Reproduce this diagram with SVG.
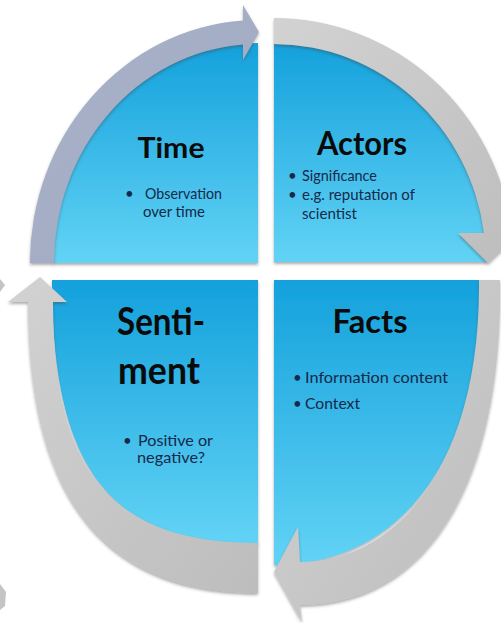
<svg xmlns="http://www.w3.org/2000/svg" width="501" height="623" viewBox="0 0 501 623">
<style>
.title{font-family:"Lato","Liberation Sans",sans-serif;font-weight:bold;fill:#0b0b0b}
.body{font-family:"Lato","Liberation Sans",sans-serif;font-size:15px;fill:#16294a}
.blue{fill:url(#blueGrad);filter:url(#shadow)}
.band{fill:url(#grayGrad);filter:url(#shadow)}
</style>
<defs>
<linearGradient id="blueGrad" x1="0" y1="0" x2="0" y2="1">
<stop offset="0" stop-color="#14a1dc"/>
<stop offset="1" stop-color="#62d3f5"/>
</linearGradient>
<linearGradient id="grayGrad" x1="0" y1="0" x2="1" y2="1">
<stop offset="0" stop-color="#d2d2d2"/>
<stop offset="1" stop-color="#bdbdbd"/>
</linearGradient>
<linearGradient id="slateGrad" x1="0" y1="0" x2="1" y2="1">
<stop offset="0" stop-color="#aab3ca"/>
<stop offset="1" stop-color="#9ea8c0"/>
</linearGradient>
<filter id="shadow" x="-10%" y="-10%" width="120%" height="125%">
<feDropShadow dx="0" dy="2" stdDeviation="1.5" flood-color="#444" flood-opacity="0.45"/>
</filter>
</defs>
<rect width="501" height="623" fill="#ffffff"/>

<g id="node-time">
<path class="blue" d="M258,263 L53,263 A205 220 0 0 1 258 43 Z"/>
<text class="title" x="171" y="158" font-size="29" text-anchor="middle" textLength="67" lengthAdjust="spacingAndGlyphs">Time</text>
<text class="body" x="125" y="199">•</text>
<text class="body" x="145" y="199" textLength="77" lengthAdjust="spacingAndGlyphs">Observation</text>
<text class="body" x="143" y="217" textLength="62" lengthAdjust="spacingAndGlyphs">over time</text>
</g>

<g id="node-actors">
<path class="blue" d="M274,262 L274,43 A213 219 0 0 1 487 262 Z"/>
<text class="title" x="362" y="155" font-size="32" text-anchor="middle" textLength="90" lengthAdjust="spacingAndGlyphs">Actors</text>
<text class="body" x="288" y="181" font-size="13">•</text>
<text class="body" x="302" y="181" font-size="13" textLength="75" lengthAdjust="spacingAndGlyphs">Significance</text>
<text class="body" x="288" y="200" font-size="13">•</text>
<text class="body" x="302" y="200" font-size="13" textLength="113" lengthAdjust="spacingAndGlyphs">e.g. reputation of</text>
<text class="body" x="302" y="219" font-size="13" textLength="55" lengthAdjust="spacingAndGlyphs">scientist</text>
</g>

<g id="node-facts">
<path class="blue" d="M274,280 L480,280 C482,460 400,565 274,565 Z"/>
<text class="title" x="370" y="333" font-size="32" text-anchor="middle" textLength="75" lengthAdjust="spacingAndGlyphs">Facts</text>
<text class="body" x="293" y="383">•</text>
<text class="body" x="305" y="383" textLength="143" lengthAdjust="spacingAndGlyphs">Information content</text>
<text class="body" x="293" y="409">•</text>
<text class="body" x="305" y="409" textLength="55" lengthAdjust="spacingAndGlyphs">Context</text>
</g>

<g id="node-sentiment">
<path class="blue" d="M258,280 L52,280 C52,470 110,544 258,544 Z"/>
<text class="title" x="117" y="335" font-size="38" textLength="88" lengthAdjust="spacingAndGlyphs">Senti-</text>
<text class="title" x="118" y="384" font-size="38" textLength="82" lengthAdjust="spacingAndGlyphs">ment</text>
<text class="body" x="123" y="446">•</text>
<text class="body" x="138" y="446" textLength="75" lengthAdjust="spacingAndGlyphs">Positive or</text>
<text class="body" x="137" y="463" textLength="68" lengthAdjust="spacingAndGlyphs">negative?</text>
</g>

<g id="connectors">
<path id="arrow-time-actors" fill="url(#slateGrad)" filter="url(#shadow)" d="M30,263 A228 243 0 0 1 243 20.5 L243,5 L259,32 L243,60 L243,44.5 A204 219 0 0 0 54 263 Z"/>
<path id="arrow-actors-facts" class="band" d="M274,18 A240 244 0 0 1 512 233 L520,233 L488,263 L458,233 L484,233 A212 218 0 0 0 274 44 Z"/>
<path id="arrow-facts-sentiment" class="band" d="M479,280 L500,280 C503,480 430,605 300,605 L302,622 L274,572 L298,527 L300,562 C400,562 481,460 479,280 Z"/>
<path id="arrow-sentiment-time" class="band" d="M258,593 C90,593 28,480 28,302 L8,302 L40,277 L67,302 L53,302 C53,470 110,543 258,543 Z"/>
<path fill="#c4c4c4" d="M0,279 L5,285 L0,292 Z"/>
<path fill="#c4c4c4" d="M0,584 L6,592 L5,606 L0,610 Z"/>
</g>
</svg>
